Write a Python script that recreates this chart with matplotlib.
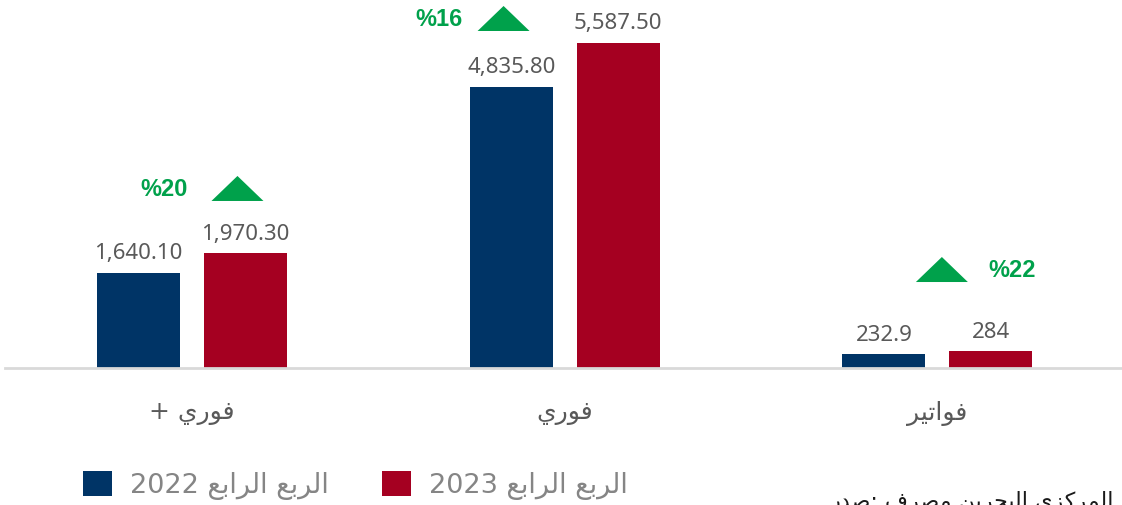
import numpy as np
import matplotlib
matplotlib.use("Agg")
import matplotlib.pyplot as plt
from matplotlib.patches import Polygon

# Arabic written in visual order with presentation forms (matplotlib does no shaping/bidi)
RABIA = "\uFECA\uFE91\uFE8D\uFEAE\uFEDF\uFE8D"      # الرابع
RUBU = "\uFECA\uFE91\uFEAE\uFEDF\uFE8D"             # الربع
FAWRI = "\uFEF1\uFEAD\uFEEE\uFED3"                 # فوري
FAWATEER = "\uFEAE\uFEF4\uFE97\uFE8D\uFEEE\uFED3"  # فواتير

CATS = ["+ " + FAWRI, FAWRI, FAWATEER]
Q4_2022 = [1640.10, 4835.80, 232.9]
Q4_2023 = [1970.30, 5587.50, 284]
LBL_2022 = ["1,640.10", "4,835.80", "232.9"]
LBL_2023 = ["1,970.30", "5,587.50", "284"]
GROWTH = ["%20", "%16", "%22"]
SERIES = ["2022 " + RABIA + " " + RUBU, "2023 " + RABIA + " " + RUBU]
SOURCE = ("\uFEAD\uFEAA\uFEBB: \uFED1\uFEAE\uFEBC\uFEE3 "
          "\uFEE6\uFEF3\uFEAE\uFEA4\uFE92\uFEDF\uFE8D "
          "\uFEF1\uFEB0\uFEDB\uFEAE\uFEE4\uFEDF\uFE8D")

NAVY, RED, GREEN, GREY = "#003466", "#a50021", "#00a14b", "#595959"

# hand-placed growth markers: (x offset from group, base y, text offset)
TRI_DX = [0.122, -0.164, 0.012]
TRI_Y = [2871, 5793, 1478]
TXT_DX = [-0.197, -0.173, 0.189]

W, H = 1122, 506
fig = plt.figure(figsize=(W / 100, H / 100), dpi=100)
ax = fig.add_axes([5 / W, 1 - 369 / H, 1 - 5 / W, 369 / H])

x = np.arange(len(CATS))
bw, off = 0.2227, 0.1435
b1 = ax.bar(x - off, Q4_2022, bw, color=NAVY)
b2 = ax.bar(x + off, Q4_2023, bw, color=RED)
ax.set_xlim(-0.5017, 2.4953)
ax.set_ylim(0, 6343)

ax.bar_label(b1, labels=LBL_2022, padding=7, fontsize=16, color=GREY, fontfamily="Noto Sans")
ax.bar_label(b2, labels=LBL_2023, padding=7, fontsize=16, color=GREY, fontfamily="Noto Sans")

tw, th = 0.1395, 430
for i in range(len(CATS)):
    cx, by = x[i] + TRI_DX[i], TRI_Y[i]
    ax.add_patch(Polygon([(cx - tw / 2, by), (cx + tw / 2, by), (cx, by + th)],
                         closed=True, color=GREEN, lw=0))
    ax.text(cx + TXT_DX[i], by + th / 2, GROWTH[i], ha="center", va="center",
            fontsize=17, fontweight="bold", color=GREEN, fontfamily="Liberation Sans")

for s in ["top", "left", "right"]:
    ax.spines[s].set_visible(False)
ax.spines["bottom"].set_color("#d9d9d9")
ax.spines["bottom"].set_linewidth(2)
ax.set_yticks([])
ax.set_xticks(x, CATS)
ax.tick_params(axis="x", length=0, pad=23, labelsize=18, labelcolor=GREY)

fig.legend(handles=[b1, b2], labels=SERIES, loc="center left",
           bbox_to_anchor=(83 / W, 1 - 486 / H), ncol=2, frameon=False,
           borderpad=0, borderaxespad=0, handlelength=1.07, handleheight=1.07,
           handletextpad=0.67, columnspacing=1.95, labelcolor="#858585",
           prop={"family": "DejaVu Sans", "size": 19.5})

fig.text(830 / W, -2 / H, SOURCE, ha="left", va="baseline", fontsize=16, color="#1a1a1a")

fig.savefig("out.png", dpi=100)
